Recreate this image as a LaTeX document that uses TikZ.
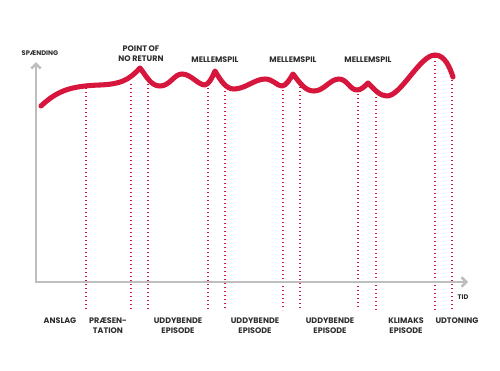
\documentclass[tikz,border=0pt]{standalone}
\usepackage{fontspec}
\setmainfont{Poppins}
\usetikzlibrary{arrows.meta}
\definecolor{plotred}{RGB}{214,22,60}
\definecolor{axisgray}{RGB}{190,190,190}
\definecolor{textgray}{RGB}{45,45,45}

\begin{document}
\begin{tikzpicture}[x=0.75pt,y=0.75pt,yscale=-1,xscale=1,
  axis/.style={draw=axisgray,line width=1.9pt,-{Straight Barb[length=3.5pt,width=7pt]}},
  mark line/.style={draw=plotred,line width=1pt,dotted},
  story/.style={draw=plotred,line width=3.8pt,line cap=round,line join=round},
  toplbl/.style={anchor=north,inner sep=0pt,align=center,text=textgray,font=\fontsize{6}{7.5}\selectfont\bfseries},
  lbl/.style={anchor=north,inner sep=0pt,align=center,text=textgray,font=\fontsize{6}{7.6}\selectfont\bfseries},
  axlbl/.style={anchor=north,inner sep=0pt,text=textgray,font=\fontsize{5}{6}\selectfont\bfseries}]
\useasboundingbox (0,0) rectangle (500,371);

%Dotted Lines
\foreach \x/\y in {86/88,131/84,148/84,208/84,225/87,283/86,300/87,358/90,376/93,435/57,452/76}
  \draw [mark line] (\x,\y) -- (\x,310);

%Axes
\coordinate (origin) at (36,282);
\coordinate (yend) at (36,62);
\coordinate (xend) at (468,282);
\draw [axis] (origin) -- (yend);
\draw [axis] ([xshift=-0.9pt]origin) -- (xend);

%Curve Lines
\draw [story] (41,106) .. controls (58,90) and (72,86) .. (100,85)
  .. controls (120,84) and (128,81) .. (140,68)
  .. controls (147,77) and (151,86) .. (160,86)
  .. controls (170,86) and (174,74) .. (182,74)
  .. controls (191,74) and (198,85) .. (205,85)
  .. controls (209,84) and (212,78) .. (215,71)
  .. controls (221,81) and (226,89) .. (234,89)
  .. controls (245,89) and (255,79) .. (265,79)
  .. controls (273,79) and (277,86) .. (282,86)
  .. controls (286,86) and (290,79) .. (293,74)
  .. controls (300,83) and (305,91) .. (314,91)
  .. controls (324,91) and (330,79) .. (339,79)
  .. controls (347,79) and (350,90) .. (357,90)
  .. controls (361,90) and (364,87) .. (368,83)
  .. controls (375,90) and (380,96) .. (387,96)
  .. controls (401,96) and (420,55) .. (435,55)
  .. controls (445,55) and (450,68) .. (453,77);

% Text Node
\node [axlbl] (spaending) at (40,50) {SPÆNDING};
% Text Node
\node [axlbl] (tid) at (463,295) {TID};
% Text Node
\node [toplbl] (ponr) at (141,46) {POINT OF\\NO RETURN};
% Text Node
\node [toplbl] (mell1) at (215,56.5) {MELLEMSPIL};
% Text Node
\node [toplbl] (mell2) at (293,56.5) {MELLEMSPIL};
% Text Node
\node [toplbl] (mell3) at (368,56.5) {MELLEMSPIL};
% Text Node
\node [lbl] (anslag) at (60,317.5) {ANSLAG};
% Text Node
\node [lbl] (praes) at (108,317.5) {PRÆSEN-\\TATION};
% Text Node
\node [lbl] (udd1) at (178,317.5) {UDDYBENDE\\EPISODE};
% Text Node
\node [lbl] (udd2) at (255,317.5) {UDDYBENDE\\EPISODE};
% Text Node
\node [lbl] (udd3) at (330,317.5) {UDDYBENDE\\EPISODE};
% Text Node
\node [lbl] (klimaks) at (406,317.5) {KLIMAKS\\EPISODE};
% Text Node
\node [lbl] (udtoning) at (457,317.5) {UDTONING};

\end{tikzpicture}
\end{document}
